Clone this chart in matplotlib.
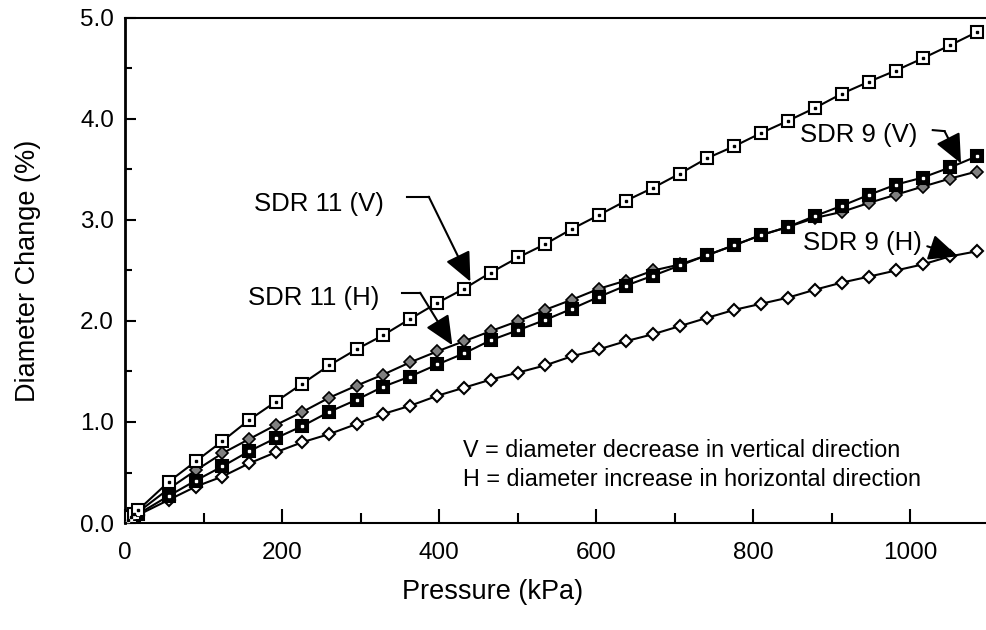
import matplotlib
matplotlib.use("Agg")
import matplotlib.pyplot as plt
from matplotlib.ticker import MultipleLocator, FormatStrFormatter

plt.rcParams['font.family'] = ['Liberation Sans', 'DejaVu Sans']

# Datos
pressure = [0, 4, 8, 12, 17, 56, 90, 124, 158, 192, 226, 260, 295, 329, 363, 398,
            432, 466, 501, 535, 569, 604, 638, 673, 707, 741, 776, 810, 844, 879,
            913, 948, 982, 1016, 1051, 1085]
sdr11_v = [0, 0.03, 0.06, 0.09, 0.13, 0.41, 0.61, 0.81, 1.02, 1.20, 1.38, 1.56, 1.72,
           1.86, 2.02, 2.18, 2.32, 2.48, 2.63, 2.76, 2.91, 3.05, 3.19, 3.32, 3.46,
           3.61, 3.73, 3.86, 3.98, 4.11, 4.25, 4.37, 4.48, 4.60, 4.73, 4.86]
sdr11_h = [0, 0.025, 0.05, 0.08, 0.11, 0.34, 0.52, 0.69, 0.83, 0.97, 1.10, 1.24, 1.36,
           1.47, 1.59, 1.70, 1.80, 1.90, 2.00, 2.11, 2.21, 2.32, 2.40, 2.50, 2.56,
           2.65, 2.75, 2.85, 2.93, 3.02, 3.08, 3.17, 3.25, 3.33, 3.41, 3.48]
sdr9_v = [0, 0.02, 0.04, 0.06, 0.09, 0.27, 0.42, 0.56, 0.71, 0.84, 0.96, 1.10, 1.22,
          1.35, 1.45, 1.57, 1.68, 1.81, 1.91, 2.01, 2.12, 2.24, 2.35, 2.45, 2.55,
          2.65, 2.75, 2.85, 2.93, 3.04, 3.14, 3.25, 3.35, 3.42, 3.52, 3.63]
sdr9_h = [0, 0.02, 0.04, 0.06, 0.08, 0.23, 0.36, 0.46, 0.59, 0.70, 0.80, 0.88, 0.98,
          1.08, 1.16, 1.26, 1.34, 1.42, 1.49, 1.56, 1.65, 1.72, 1.80, 1.87, 1.95,
          2.03, 2.11, 2.17, 2.23, 2.31, 2.38, 2.44, 2.50, 2.56, 2.64, 2.69]

fig = plt.figure(figsize=(9.86, 6.3), dpi=100)
ax = fig.add_axes([125 / 986, 107 / 630, 863.5 / 986, 505 / 630])

# Curvas
ax.plot(pressure, sdr9_h, color='black', lw=1.5, marker='D', ms=6,
        mfc='white', mec='black', mew=1.5, zorder=3)
ax.plot(pressure, sdr11_h, color='black', lw=1.5, marker='D', ms=6,
        mfc='#808080', mec='black', mew=1.2, zorder=3)
ax.plot(pressure, sdr9_v, color='black', lw=1.5, marker='s', ms=8,
        mfc='black', mec='black', mew=1.5, zorder=4)
ax.plot(pressure, sdr9_v, ls='none', marker='s', ms=2, color='white', zorder=5)
ax.plot(pressure, sdr11_v, color='black', lw=1.5, marker='s', ms=8,
        mfc='white', mec='black', mew=1.5, zorder=4)
ax.plot(pressure, sdr11_v, ls='none', marker='s', ms=1.8, color='black', zorder=5)

ax.set_xlim(0, 1100)
ax.set_ylim(0, 5.0)

ax.xaxis.set_major_locator(MultipleLocator(200))
ax.xaxis.set_minor_locator(MultipleLocator(100))
ax.yaxis.set_major_locator(MultipleLocator(1.0))
ax.yaxis.set_minor_locator(MultipleLocator(0.5))
ax.yaxis.set_major_formatter(FormatStrFormatter('%.1f'))

ax.xaxis.set_tick_params(which='major', direction='in', length=10, width=1.5,
                         pad=14, labelsize=17.5)
ax.xaxis.set_tick_params(which='minor', direction='in', length=7, width=1.5)
ax.yaxis.set_tick_params(which='major', direction='in', length=8, width=1.5,
                         pad=8, labelsize=17.5)
ax.yaxis.set_tick_params(which='minor', direction='in', length=5, width=1.5)

ax.spines['left'].set_linewidth(2.0)
ax.spines['bottom'].set_linewidth(1.5)
ax.spines['top'].set_linewidth(1.5)
ax.spines['right'].set_visible(False)

ax.set_xlabel('Pressure (kPa)', fontsize=19.5)
ax.xaxis.label.set_va('center')
ax.xaxis.set_label_coords(0.426, -0.137)
ax.set_ylabel('Diameter Change (%)', fontsize=19.5)
ax.yaxis.label.set_va('center')
ax.yaxis.set_label_coords(-0.112, 0.5)

# Etiquetas con flechas
flecha = dict(arrowstyle='-|>,head_length=1.0,head_width=0.45', mutation_scale=18,
              lw=1.5, color='black', shrinkA=0, shrinkB=0)

ax.text(247, 3.16, 'SDR 11 (V)', fontsize=18.5, ha='center', va='center')
ax.plot([359, 387], [3.23, 3.23], color='black', lw=1.5)
ax.annotate('', xy=(440, 2.39), xytext=(387, 3.23), arrowprops=flecha)

ax.text(240, 2.23, 'SDR 11 (H)', fontsize=18.5, ha='center', va='center')
ax.plot([353, 376], [2.28, 2.28], color='black', lw=1.5)
ax.annotate('', xy=(417, 1.76), xytext=(376, 2.28), arrowprops=flecha)

ax.text(935, 3.84, 'SDR 9 (V)', fontsize=18.5, ha='center', va='center')
ax.plot([1029, 1044], [3.89, 3.88], color='black', lw=1.5)
ax.annotate('', xy=(1065, 3.56), xytext=(1044, 3.88), arrowprops=flecha)

ax.text(940, 2.77, 'SDR 9 (H)', fontsize=18.5, ha='center', va='center')
ax.annotate('', xy=(1061, 2.64), xytext=(1022, 2.74), arrowprops=flecha)

# Nota
ax.text(431, 0.72, 'V = diameter decrease in vertical direction', fontsize=16.8,
        ha='left', va='center')
ax.text(431, 0.43, 'H = diameter increase in horizontal direction', fontsize=16.8,
        ha='left', va='center')

plt.savefig('out.png', dpi=100)
